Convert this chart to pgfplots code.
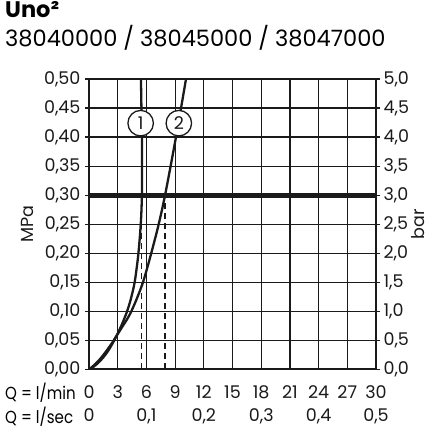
\documentclass[border=0pt]{standalone}
\usepackage{fontspec}
\setmainfont{Poppins}
\usepackage{graphicx}
\usepackage{pgfplots}
\pgfplotsset{compat=1.18}
\definecolor{ink}{HTML}{1A1A1A}
\newcommand{\lab}{\fontsize{17.5pt}{20pt}\selectfont}

\begin{document}
\begin{tikzpicture}
\useasboundingbox (0pt,0pt) rectangle (432pt,433pt);
% header and bottom row captions
\node[anchor=base west, inner sep=0pt, font=\fontsize{22.5pt}{25pt}\selectfont\bfseries] at (5pt,415pt) {Uno²};
\node[anchor=base west, inner sep=0pt, font=\fontsize{22.5pt}{25pt}\selectfont] at (5pt,386.3pt) {38040000 / 38045000 / 38047000};
\node[anchor=base west, inner sep=0pt, font=\lab] at (5pt,33pt) {\scalebox{0.86}[1]{Q = l/min}};
\node[anchor=base west, inner sep=0pt, font=\lab] at (5pt,9.7pt) {\scalebox{0.86}[1]{Q = l/sec}};

\begin{axis}[
  at={(89pt,63.5pt)}, anchor=south west,
  scale only axis, width=287pt, height=290.5pt,
  xmin=0, xmax=30, ymin=0, ymax=0.5,
  xtick={0,3,...,30},
  xticklabels={0,3,6,9,12,15,18,21,24,27,30},
  ytick={0,0.05,0.1,0.15,0.2,0.25,0.3,0.35,0.4,0.45,0.5},
  yticklabels={{0,00},{0,05},{0,10},{0,15},{0,20},{0,25},{0,30},{0,35},{0,40},{0,45},{0,50}},
  ytick pos=left,
  grid=major, grid style={ink, line width=1.2pt},
  axis line style={ink, line width=2pt},
  xtick style={draw=none},
  ytick style={ink, line width=1.2pt},
  tick align=center, major tick length=8pt,
  ticklabel style={font=\lab, text=ink},
  xticklabel style={anchor=base, yshift=-24.5pt},
  yticklabel style={anchor=east, xshift=-1pt},
  ylabel={MPa},
  ylabel style={font=\lab, text=ink, inner sep=0pt, at={(axis description cs:-0.216,0.5)}, anchor=center},
  clip=true,
]
% 0,3 MPa reference line
\addplot[ink, line width=5pt] coordinates {(0,0.3) (30,0.3)};
% curve 1
\addplot[ink, line width=2.3pt, smooth] coordinates {
(0,0) (0.5,0.005) (1,0.012) (1.5,0.021) (2,0.032) (2.5,0.046) (3,0.062)
(3.5,0.080) (4,0.101) (4.4,0.123) (4.77,0.150) (5.1,0.190) (5.3,0.225)
(5.45,0.262) (5.53,0.30) (5.55,0.35) (5.53,0.40) (5.48,0.45) (5.43,0.50)};
% curve 2
\addplot[ink, line width=2.3pt, smooth] coordinates {
(0,0) (0.5,0.007) (1,0.015) (1.5,0.025) (2,0.036) (2.5,0.048) (3,0.061)
(3.5,0.074) (4,0.087) (4.42,0.100) (5,0.122) (5.64,0.150) (6.34,0.190)
(7.21,0.245) (7.95,0.300) (9.09,0.400) (10.14,0.500)};
% flow at 0,3 MPa
\addplot[ink, line width=1.2pt, dash pattern=on 6pt off 4pt] coordinates {(5.47,0) (5.47,0.29)};
\addplot[ink, line width=1.2pt, dash pattern=on 6pt off 4pt] coordinates {(7.95,0) (7.95,0.29)};
\node[circle, draw=ink, fill=white, line width=1.3pt, minimum size=25.5pt, inner sep=0pt, font=\lab, text=ink] at (axis cs:5.4,0.424) {1};
\node[circle, draw=ink, fill=white, line width=1.3pt, minimum size=25.5pt, inner sep=0pt, font=\lab, text=ink] at (axis cs:9.39,0.424) {2};
\end{axis}

\begin{axis}[
  at={(89pt,63.5pt)}, anchor=south west,
  scale only axis, width=287pt, height=290.5pt,
  xmin=0, xmax=30, ymin=0, ymax=5,
  axis x line*=bottom, axis y line*=right,
  axis line style={ink, line width=2pt, -},
  xtick={0,6,...,30},
  xticklabels={0,{0,1},{0,2},{0,3},{0,4},{0,5}},
  ytick={0,0.5,...,5},
  yticklabels={{0,0},{0,5},{1,0},{1,5},{2,0},{2,5},{3,0},{3,5},{4,0},{4,5},{5,0}},
  xtick style={draw=none},
  ytick style={ink, line width=1.2pt},
  tick align=center, major tick length=8pt,
  ticklabel style={font=\lab, text=ink},
  xticklabel style={anchor=base, yshift=-47.8pt},
  yticklabel style={anchor=west, xshift=0pt},
  ylabel={bar},
  ylabel style={font=\lab, text=ink, inner sep=0pt, at={(axis description cs:1.146,0.5)}, anchor=center},
]
\end{axis}
\end{tikzpicture}
\end{document}
